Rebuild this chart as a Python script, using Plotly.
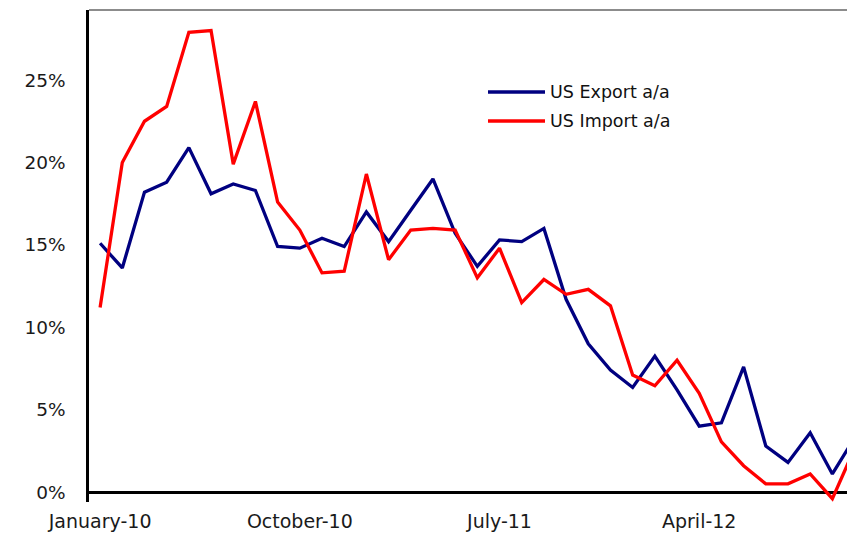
import plotly.graph_objects as go

months = ["2010-01","2010-02","2010-03","2010-04","2010-05","2010-06","2010-07","2010-08","2010-09",
          "2010-10","2010-11","2010-12","2011-01","2011-02","2011-03","2011-04","2011-05","2011-06",
          "2011-07","2011-08","2011-09","2011-10","2011-11","2011-12","2012-01","2012-02","2012-03",
          "2012-04","2012-05","2012-06","2012-07","2012-08","2012-09","2012-10","2012-11"]
us_export = [15.1,13.6,18.2,18.8,20.9,18.1,18.7,18.3,14.9,14.8,15.4,14.9,17.0,15.2,17.1,19.0,15.7,13.7,
             15.3,15.2,16.0,11.7,9.0,7.4,6.35,8.25,6.2,4.0,4.2,7.6,2.8,1.8,3.6,1.1,3.3]
us_import = [11.2,20.0,22.5,23.4,27.9,28.0,19.9,23.7,17.6,15.9,13.3,13.4,19.3,14.1,15.9,16.0,15.9,13.0,
             14.8,11.5,12.9,12.0,12.3,11.3,7.1,6.45,8.0,6.0,3.05,1.6,0.5,0.5,1.1,-0.4,2.65]
tick_months = ["2010-01","2010-10","2011-07","2012-04"]
tick_labels = ["January-10","October-10","July-11","April-12"]
y_ticks = [0,5,10,15,20,25]
y_tick_labels = ["0%","5%","10%","15%","20%","25%"]
names = ["US Export a/a","US Import a/a"]
colors = ["#000080","#FF0000"]

# the page body has an 8px margin; compensate so the chart lands where the reference has it
OFF = 8
W, H = 855 - OFF, 535 - OFF
L, T, R = 89 - OFF, 10 - OFF, 0
y_min, y_max = -0.6, 29.25
px_per_unit = 16.48
plot_h = (y_max - y_min) * px_per_unit
B = H - T - plot_h

fig = go.Figure()
for name, vals, c in zip(names, [us_export, us_import], colors):
    fig.add_trace(go.Scatter(x=months, y=vals, mode="lines", name=name,
                             line=dict(color=c, width=3.3), showlegend=False))

font = dict(family="DejaVu Sans", size=18, color="#1a1a1a")
fig.update_layout(
    width=W, height=H,
    margin=dict(l=L, r=R, t=T, b=B, autoexpand=False),
    paper_bgcolor="white", plot_bgcolor="white",
    font=font,
    xaxis=dict(type="category", range=[-0.5, 34.02], tickvals=tick_months, ticktext=tick_labels,
               showgrid=False, showline=False, zeroline=False, ticks="", automargin=False,
               ticklabelstandoff=6, tickfont=dict(family="DejaVu Sans", size=19, color="#1a1a1a")),
    yaxis=dict(range=[y_min, y_max], tickvals=y_ticks, ticktext=y_tick_labels,
               showgrid=False, zeroline=True, zerolinecolor="black", zerolinewidth=2.5,
               showline=True, linecolor="black", linewidth=2.5, ticks="", automargin=False,
               ticklabelstandoff=17, tickfont=dict(family="DejaVu Sans", size=18.5, color="#1a1a1a")),
)

# top border
fig.add_shape(type="line", xref="paper", yref="paper", x0=0, x1=1, y0=1, y1=1,
              line=dict(color="#8c8c8c", width=2))

# legend drawn manually (positions in reference-page pixels)
plot_w = W - L - R
def px_x(p): return (p - OFF - L) / plot_w
def px_y(p): return (H - B - (p - OFF)) / plot_h
for i, (name, c) in enumerate(zip(names, colors)):
    yy = 92 + i * 29
    fig.add_shape(type="line", xref="paper", yref="paper", x0=px_x(488), x1=px_x(545),
                  y0=px_y(yy), y1=px_y(yy), line=dict(color=c, width=3.3))
    fig.add_annotation(xref="paper", yref="paper", x=px_x(548), y=px_y(yy), text=name,
                       showarrow=False, xanchor="left", yanchor="middle",
                       font=dict(family="DejaVu Sans", size=17.5, color="#111"))

fig.write_html("out.html")
